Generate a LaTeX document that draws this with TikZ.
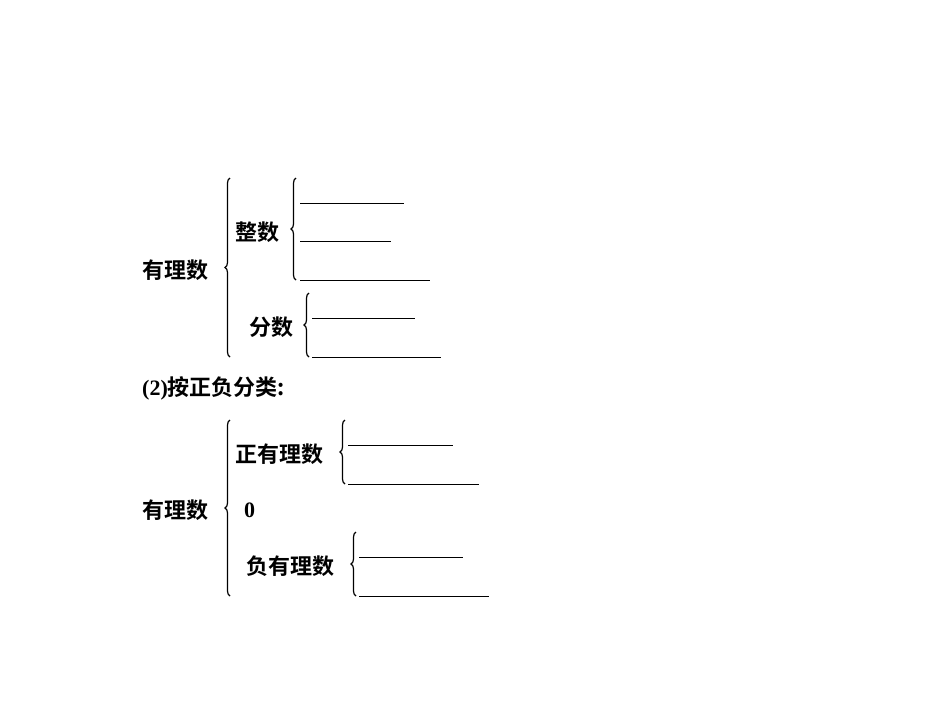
\documentclass[tikz,border=0pt]{standalone}
\usepackage{fontspec}
\setmainfont{Liberation Serif}
\newfontfamily\cjk{Noto Sans CJK SC}[BoldFont={Noto Sans CJK SC Bold}]
\usetikzlibrary{decorations.pathreplacing}
\begin{document}
\begin{tikzpicture}[x=1pt,y=-1pt,
  br/.style={draw,line width=1.2pt,decorate,decoration={brace,amplitude=5pt}},
  blank/.style={draw,line width=1pt},
  t/.style={inner sep=0pt,anchor=west,font=\fontsize{22}{24}\selectfont\bfseries\cjk}]
\useasboundingbox (0,0) rectangle (950,713);
% part 1
\node[t] (r1) at (142,270) {有理数};
\node[t] (z) at (235,232) {整数};
\node[t] (f) at (249,327) {分数};
\coordinate (b1a) at (230,357); \coordinate (b1b) at (230,178);
\draw[br] (b1a) -- (b1b);
\coordinate (b2a) at (296,280); \coordinate (b2b) at (296,178);
\draw[br] (b2a) -- (b2b);
\coordinate (b3a) at (309,357); \coordinate (b3b) at (309,293);
\draw[br] (b3a) -- (b3b);
\coordinate (l1a) at (300,203); \coordinate (l1b) at (404,203); \draw[blank] (l1a)--(l1b);
\coordinate (l2a) at (300,241); \coordinate (l2b) at (391,241); \draw[blank] (l2a)--(l2b);
\coordinate (l3a) at (300,280); \coordinate (l3b) at (430,280); \draw[blank] (l3a)--(l3b);
\coordinate (l4a) at (312,318); \coordinate (l4b) at (415,318); \draw[blank] (l4a)--(l4b);
\coordinate (l5a) at (312,357); \coordinate (l5b) at (441,357); \draw[blank] (l5a)--(l5b);
% heading
\node[t] (h) at (142,388) {\rmfamily\bfseries(2)\cjk 按正负分类:};
% part 2
\node[t] (r2) at (142,510) {有理数};
\node[t] (p) at (235,454) {正有理数};
\node[t] (zero) at (244,510) {\rmfamily\bfseries 0};
\node[t] (n) at (246,566) {负有理数};
\coordinate (b4a) at (230,596); \coordinate (b4b) at (230,420);
\draw[br] (b4a) -- (b4b);
\coordinate (b5a) at (345,484); \coordinate (b5b) at (345,420);
\draw[br] (b5a) -- (b5b);
\coordinate (b6a) at (356,596); \coordinate (b6b) at (356,532);
\draw[br] (b6a) -- (b6b);
\coordinate (m1a) at (348,445); \coordinate (m1b) at (453,445); \draw[blank] (m1a)--(m1b);
\coordinate (m2a) at (348,484); \coordinate (m2b) at (479,484); \draw[blank] (m2a)--(m2b);
\coordinate (m3a) at (359,557); \coordinate (m3b) at (463,557); \draw[blank] (m3a)--(m3b);
\coordinate (m4a) at (359,596); \coordinate (m4b) at (489,596); \draw[blank] (m4a)--(m4b);
\end{tikzpicture}
\end{document}
